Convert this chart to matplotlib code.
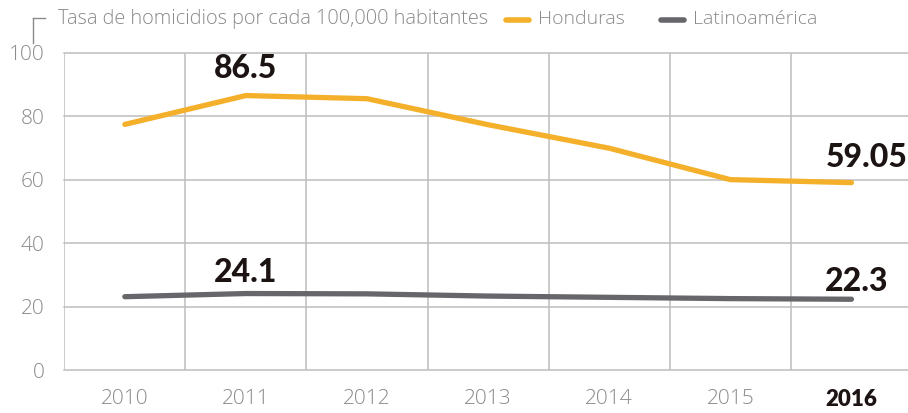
import matplotlib
matplotlib.use("Agg")
import matplotlib.pyplot as plt
from matplotlib.lines import Line2D

years = ['2010', '2011', '2012', '2013', '2014', '2015', '2016']
honduras = [77.4, 86.5, 85.5, 77.3, 69.9, 60.0, 59.05]
latam = [23.1, 24.1, 24.0, 23.3, 22.9, 22.5, 22.3]
y_ticks = [0, 20, 40, 60, 80, 100]

orange = '#F4B02A'
dark = '#67666A'
grid_c = '#BDBDBD'
tick_c = '#8A8A8A'
label_c = '#1C1412'

plt.rcParams['font.family'] = ['Open Sans', 'DejaVu Sans']

fig = plt.figure(figsize=(9.08, 4.13), dpi=100)
ax = fig.add_axes([0.0708, 0.1041, 0.9292, 0.7683])

x = list(range(len(years)))
ax.plot(x, honduras, color=orange, lw=3.8, solid_capstyle='round', solid_joinstyle='round', zorder=3)
ax.plot(x, latam, color=dark, lw=3.8, solid_capstyle='round', solid_joinstyle='round', zorder=3)

ax.set_xlim(-0.5, 6.467)
ax.set_ylim(0, 100)

# grid: horizontal at ticks, vertical at cell borders
for v in y_ticks:
    ax.axhline(v, color=grid_c, lw=1.1, zorder=1, clip_on=False)
for i in range(len(years)):
    ax.axvline(i - 0.5, color=grid_c, lw=1.1, zorder=1)

for s in ax.spines.values():
    s.set_visible(False)

ax.set_yticks(y_ticks)
ax.set_yticklabels([str(v) for v in y_ticks], color=tick_c, fontsize=15, fontweight='light')
ax.set_xticks(x)
ax.set_xticklabels(years, color=tick_c, fontsize=15, fontweight='light')
ax.tick_params(length=0, pad=14, axis='y')
ax.tick_params(length=0, pad=14, axis='x')
last = ax.get_xticklabels()[-1]
last.set_color(label_c)
last.set_fontweight('heavy')
last.set_family(['Lato', 'DejaVu Sans'])
last.set_fontsize(16)

# value labels
lab = dict(fontsize=23, fontweight='black', color=label_c, family=['Lato', 'DejaVu Sans'], va='center')
ax.text(1, 95.0, '86.5', ha='center', **lab)
ax.text(6.462, 66.9, '59.05', ha='right', **lab)
ax.text(1, 30.6, '24.1', ha='center', **lab)
ax.text(6.04, 27.8, '22.3', ha='center', **lab)

# header with legend
fig.add_artist(Line2D([33 / 908, 33 / 908], [1 - 43 / 413, 1 - 18 / 413], color=tick_c, lw=1))
fig.add_artist(Line2D([33 / 908, 45 / 908], [1 - 18 / 413, 1 - 18 / 413], color=tick_c, lw=1))
head = dict(color=tick_c, fontweight='light', va='center', ha='left')
fig.text(58 / 908, 1 - 19 / 413, 'Tasa de homicidios por cada 100,000 habitantes', fontsize=14.3, **head)
fig.add_artist(Line2D([506 / 908, 529 / 908], [1 - 20 / 413] * 2, color=orange, lw=4, solid_capstyle='round'))
fig.text(538 / 908, 1 - 19 / 413, 'Honduras', fontsize=14, **head)
fig.add_artist(Line2D([661 / 908, 684 / 908], [1 - 20 / 413] * 2, color=dark, lw=4, solid_capstyle='round'))
fig.text(693 / 908, 1 - 19 / 413, 'Latinoamérica', fontsize=14, **head)

fig.savefig('out.png', dpi=100)
